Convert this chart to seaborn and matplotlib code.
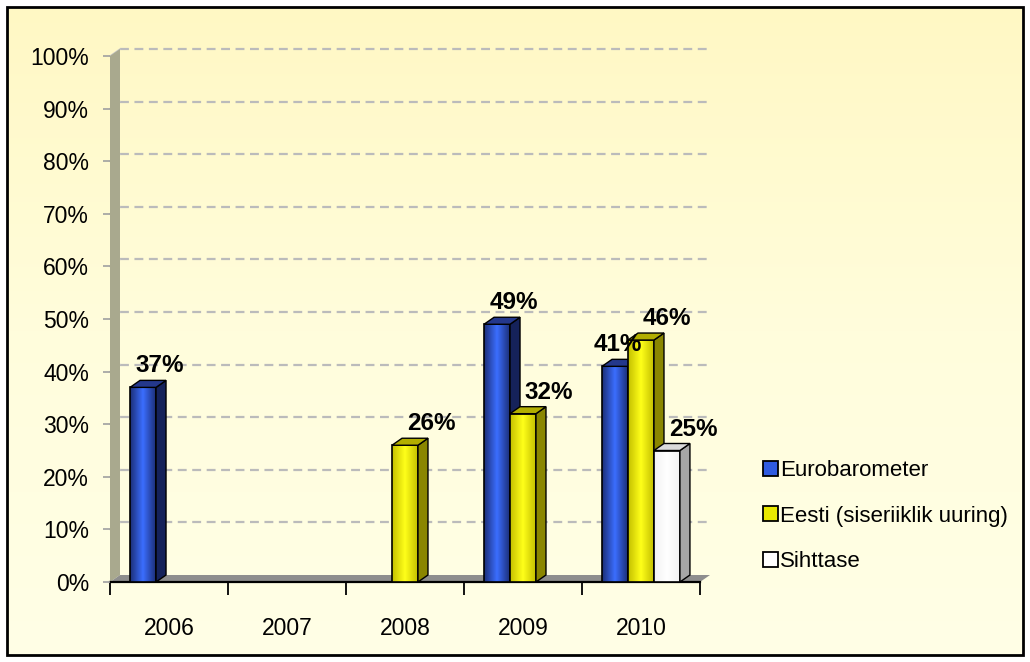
import numpy as np
import pandas as pd
import matplotlib
matplotlib.use('Agg')
import matplotlib.pyplot as plt
import seaborn as sns
from matplotlib.patches import Polygon, Rectangle
from matplotlib.colors import LinearSegmentedColormap, to_rgba

# chart data (percent)
years = ['2006', '2007', '2008', '2009', '2010']
series = ['Eurobarometer', 'Eesti (siseriiklik uuring)', 'Sihttase']
eurobarometer = [37, None, None, 49, 41]
eesti = [None, None, 26, 32, 46]
sihttase = [None, None, None, None, 25]

rows = []
for name, vals in zip(series, [eurobarometer, eesti, sihttase]):
    for yr, v in zip(years, vals):
        if v is not None:
            rows.append({'Aasta': yr, 'Seeria': name, 'Osakaal': v / 100})
df = pd.DataFrame(rows)

# colours: legend/base, face edge, face centre, side, top
base_cols = {'Eurobarometer': '#2F5BE0', 'Eesti (siseriiklik uuring)': '#E8E800', 'Sihttase': '#FFFFFF'}
grad_cols = {'Eurobarometer': ('#1C2F78', '#3B6EFF'),
             'Eesti (siseriiklik uuring)': ('#C4C000', '#FFFF1A'),
             'Sihttase': ('#F2F2F2', '#FFFFFF')}
side_cols = {'Eurobarometer': '#15225A', 'Eesti (siseriiklik uuring)': '#8A8600', 'Sihttase': '#A6A6A6'}
top_cols = {'Eurobarometer': '#24388C', 'Eesti (siseriiklik uuring)': '#B2AE00', 'Sihttase': '#DADADA'}
label_dx = {'Eurobarometer': 17, 'Eesti (siseriiklik uuring)': 26, 'Sihttase': 26}
label_nudge = {('2010', 'Eurobarometer'): -14}

W, H = 1030, 662
fig = plt.figure(figsize=(W / 100, H / 100), dpi=100, facecolor='white')

# background panel with soft yellow gradient
bg = fig.add_axes([8 / W, 8 / H, 1 - 16 / W, 1 - 16 / H], zorder=-10)
grad = np.linspace(0, 1, 256).reshape(-1, 1)
bg_cmap = LinearSegmentedColormap.from_list('bg', ['#FFF8C4', '#FFFDDC', '#FFFFE6'])
bg.imshow(grad, aspect='auto', cmap=bg_cmap, extent=[0, 1, 0, 1], origin='upper')
bg.set_axis_off()
fig.patches.append(Rectangle((7 / W, 7 / H), 1 - 14 / W, 1 - 14 / H, transform=fig.transFigure,
                             fill=False, ec='black', lw=2))

ax_l, ax_b, ax_w, ax_h = 110 / W, (H - 582) / H, 590 / W, (582 - 56) / H
ax = fig.add_axes([ax_l, ax_b, ax_w, ax_h])
ax.set_facecolor('none')

sns.barplot(data=df, x='Aasta', y='Osakaal', hue='Seeria', order=years, hue_order=series,
            palette=base_cols, saturation=1, width=0.66, errorbar=None, ax=ax, legend=False)

xmin, xmax = -0.5, len(years) - 0.5
dx = 10 / (ax_w * W / (xmax - xmin))
dy = 7 / (ax_h * H / 1.0)

# 3D wall, floor and gridlines
ax.add_patch(Polygon([(xmin, 0), (xmin + dx, dy), (xmin + dx, 1 + dy), (xmin, 1)],
                     fc='#A9A98E', ec='none', clip_on=False, zorder=0.5))
ax.add_patch(Polygon([(xmin, 0), (xmax, 0), (xmax + dx, dy), (xmin + dx, dy)],
                     fc='#8E8E8E', ec='none', clip_on=False, zorder=0.6))
ticks = np.arange(0, 1.01, 0.1)
ax.hlines(ticks[1:] + dy, xmin + dx, xmax + dx, colors='#BBBBBB', lw=1.6,
          linestyles=(0, (4, 2.5)), clip_on=False, zorder=0.4)
for t in ticks[1:]:
    ax.plot([xmin, xmin + dx], [t, t + dy], color='#C8C8C8', lw=1, clip_on=False, zorder=0.45)


def series_of(fc):
    d = {s: np.abs(np.array(to_rgba(base_cols[s])[:3]) - np.array(fc[:3])).sum() for s in series}
    return min(d, key=d.get)


bars = [p for p in ax.patches if isinstance(p, Rectangle) and np.isfinite(p.get_height())
        and p.get_height() > 0 and p.get_width() < 1]
lab_font = ['Liberation Sans Narrow', 'Liberation Sans']
for p in bars:
    name = series_of(p.get_facecolor())
    x0, w, h = p.get_x(), p.get_width(), p.get_height()
    x1 = x0 + w
    z = 2 + x0 * 0.1
    cmap = LinearSegmentedColormap.from_list('g', [grad_cols[name][0], grad_cols[name][1], grad_cols[name][0]])
    img = ax.imshow(np.linspace(0, 1, 64).reshape(1, -1), cmap=cmap, aspect='auto',
                    extent=[x0, x1, 0, h], zorder=z)
    img.set_clip_path(p)
    p.set_facecolor('none')
    p.set_edgecolor('black')
    p.set_linewidth(1.2)
    p.set_zorder(z + 0.01)
    ax.add_patch(Polygon([(x1, 0), (x1 + dx, dy), (x1 + dx, h + dy), (x1, h)],
                         fc=side_cols[name], ec='black', lw=1.0, zorder=z + 0.02, clip_on=False))
    ax.add_patch(Polygon([(x0, h), (x0 + dx, h + dy), (x1 + dx, h + dy), (x1, h)],
                         fc=top_cols[name], ec='black', lw=1.0, zorder=z + 0.02, clip_on=False))
    yr = years[int(round(x0 + w / 2))]
    ax.annotate(f'{h * 100:.0f}%', (x0 + w / 2, h + dy),
                xytext=(label_dx[name] + label_nudge.get((yr, name), 0), 3),
                textcoords='offset pixels', ha='center', va='bottom', fontsize=17.5,
                fontweight='bold', family=lab_font, zorder=10, annotation_clip=False)

ax.set_xlim(xmin, xmax)
ax.set_ylim(0, 1)
for s in ['top', 'right', 'left']:
    ax.spines[s].set_visible(False)
ax.spines['bottom'].set_linewidth(1.6)
ax.spines['bottom'].set_zorder(1)

ax.set_yticks(ticks)
ax.set_yticklabels([f'{t * 100:.0f}%' for t in ticks], fontsize=16.5, family=['Liberation Sans'])
ax.tick_params(axis='y', length=5, color='#A0A0A0', width=1.2, pad=10)
ax.set_xticks(range(len(years)))
ax.set_xticklabels(years, fontsize=16.5, family=['Liberation Sans'])
ax.tick_params(axis='x', which='major', length=0, pad=25)
ax.set_xticks(np.arange(xmin, xmax + 0.1, 1), minor=True)
ax.tick_params(axis='x', which='minor', length=9, width=1.3, color='black', direction='out')
ax.set_xlabel('')
ax.set_ylabel('')

handles = [Rectangle((0, 0), 1, 1, fc=base_cols[s], ec='black', lw=1.3) for s in series]
fig.legend(handles, series, loc='upper left', bbox_to_anchor=(752 / W, 1 - 449 / H),
           frameon=False, prop={'family': 'Liberation Sans', 'size': 16},
           handlelength=0.65, handleheight=0.65, handletextpad=0.1, labelspacing=1.1, borderpad=0)

fig.savefig('out.png', dpi=100, facecolor='white')
